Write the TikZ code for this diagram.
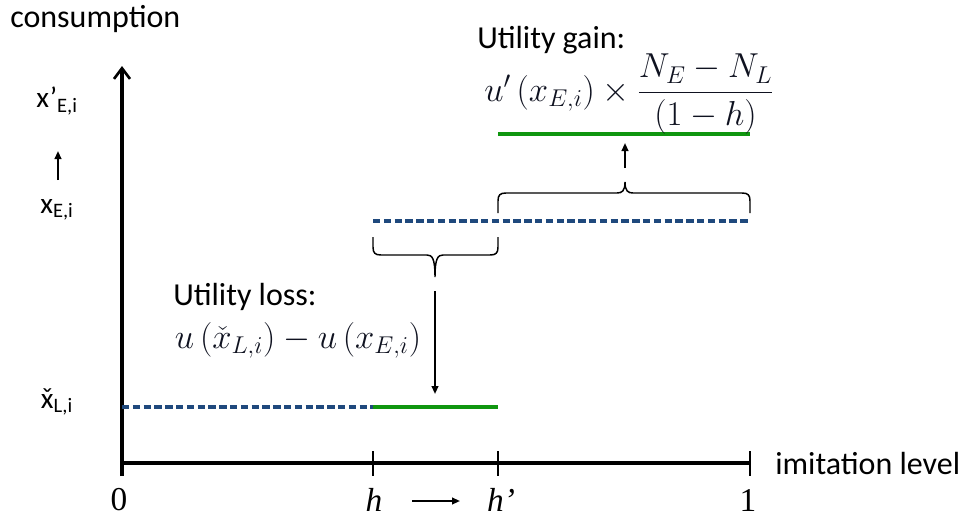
\RequirePackage{fix-cm}
\documentclass[tikz,border=0pt]{standalone}
\usepackage{amsmath}
\usepackage{fontspec}
\setmainfont{Carlito}
\newfontfamily\numfont{Liberation Serif}
\usetikzlibrary{arrows.meta}
\definecolor{dashblue}{RGB}{31,73,125}
\definecolor{mygreen}{RGB}{16,150,16}
\definecolor{mathcol}{RGB}{15,18,32}
\newcommand{\caronx}{\ooalign{x\cr\hidewidth ˇ\hidewidth\cr}}
\begin{document}
\begin{tikzpicture}[x=0.75pt,y=-0.75pt,
  axisline/.style={line width=2.3pt},
  tickline/.style={line width=1.6pt},
  dashline/.style={dashblue,line width=2.4pt,dash pattern=on 5.5pt off 2.6pt},
  greenline/.style={mygreen,line width=2.4pt},
  bracestyle/.style={line width=1.1pt},
  smallarrow/.style={line width=1.4pt,-{Triangle[length=6pt,width=5pt]}},
  lbl/.style={inner sep=0pt,font=\fontsize{24}{26}\selectfont},
  ylbl/.style={inner sep=0pt,font=\fontsize{22}{24}\selectfont},
  mathlbl/.style={inner sep=0pt,text=mathcol,font=\fontsize{26}{29}\selectfont},
  numlbl/.style={inner sep=0pt,font=\fontsize{25}{27}\selectfont\numfont}]
\useasboundingbox (0,0) rectangle (960,518);
% axes
\coordinate (O) at (122,463);
\coordinate (Ytop) at (122,66);
\coordinate (Ybot) at (122,476);
\coordinate (Xend) at (750,463);
\draw[axisline,-{Straight Barb[length=8pt,width=12pt,line width=2pt]}] (Ybot) -- (Ytop);
\draw[axisline] (O) -- (Xend);
\foreach \n/\x in {th/373,thp/498,tone/750}{
  \coordinate (\n a) at (\x,451);
  \coordinate (\n b) at (\x,476);
  \draw[tickline] (\n a) -- (\n b);
}
% axis labels
\node[lbl,anchor=west] (cons) at (10,19) {consumption};
\node[lbl,anchor=west] (imit) at (775,463) {imitation level};
\node[numlbl] (zero) at (119,500) {0};
\node[numlbl] (h) at (374,500) {\itshape h};
\node[numlbl] (hp) at (501,500) {\itshape h’};
\node[numlbl] (one) at (748,500) {1};
\coordinate (ha) at (412,501);
\coordinate (hb) at (460,501);
\draw[smallarrow] (ha) -- (hb);
% y labels
\node[ylbl] (xpe) at (57,101) {x’\textsubscript{E,i}};
\node[ylbl] (xe) at (57,210) {x\textsubscript{E,i}};
\node[ylbl] (xl) at (57,405) {\caronx\textsubscript{L,i}};
\coordinate (ya) at (58,180);
\coordinate (yb) at (58,151);
\draw[smallarrow] (ya) -- (yb);
% level lines
\coordinate (L0) at (122,407);
\coordinate (L1) at (373,407);
\coordinate (L2) at (498,407);
\coordinate (E1) at (373,221);
\coordinate (E2) at (750,221);
\coordinate (G1) at (498,134);
\coordinate (G2) at (750,134);
\draw[dashline] (L0) -- (L1);
\draw[greenline] (L1) -- (L2);
\draw[dashline] (E1) -- (E2);
\draw[greenline] (G1) -- (G2);
% braces
\draw[bracestyle] (373,237) -- (373,247) .. controls (373,253) and (375,255) .. (381,255)
  -- (427,255) .. controls (432,255) and (435,258) .. (435,277)
  .. controls (435,258) and (438,255) .. (443,255)
  -- (490,255) .. controls (496,255) and (498,253) .. (498,247) -- (498,237);
\draw[bracestyle] (498,213) -- (498,201) .. controls (498,195) and (500,193) .. (506,193)
  -- (617,193) .. controls (622,193) and (625,191) .. (625,182)
  .. controls (625,191) and (628,193) .. (633,193)
  -- (742,193) .. controls (748,193) and (750,195) .. (750,201) -- (750,213);
% arrows from braces
\coordinate (A1a) at (435,291);
\coordinate (A1b) at (435,394);
\draw[smallarrow] (A1a) -- (A1b);
\coordinate (A2a) at (625,168);
\coordinate (A2b) at (625,143);
\draw[smallarrow] (A2a) -- (A2b);
% utility texts
\node[lbl,anchor=west] (gain) at (477,40) {Utility gain:};
\node[mathlbl] (gainf) at (629,94) {$u'\left(x_{E,i}\right)\times\dfrac{N_E-N_L}{(1-h)}$};
\node[lbl,anchor=west] (loss) at (173,297) {Utility loss:};
\node[mathlbl] (lossf) at (298,340) {$u\left(\check{x}_{L,i}\right)-u\left(x_{E,i}\right)$};
\end{tikzpicture}
\end{document}
